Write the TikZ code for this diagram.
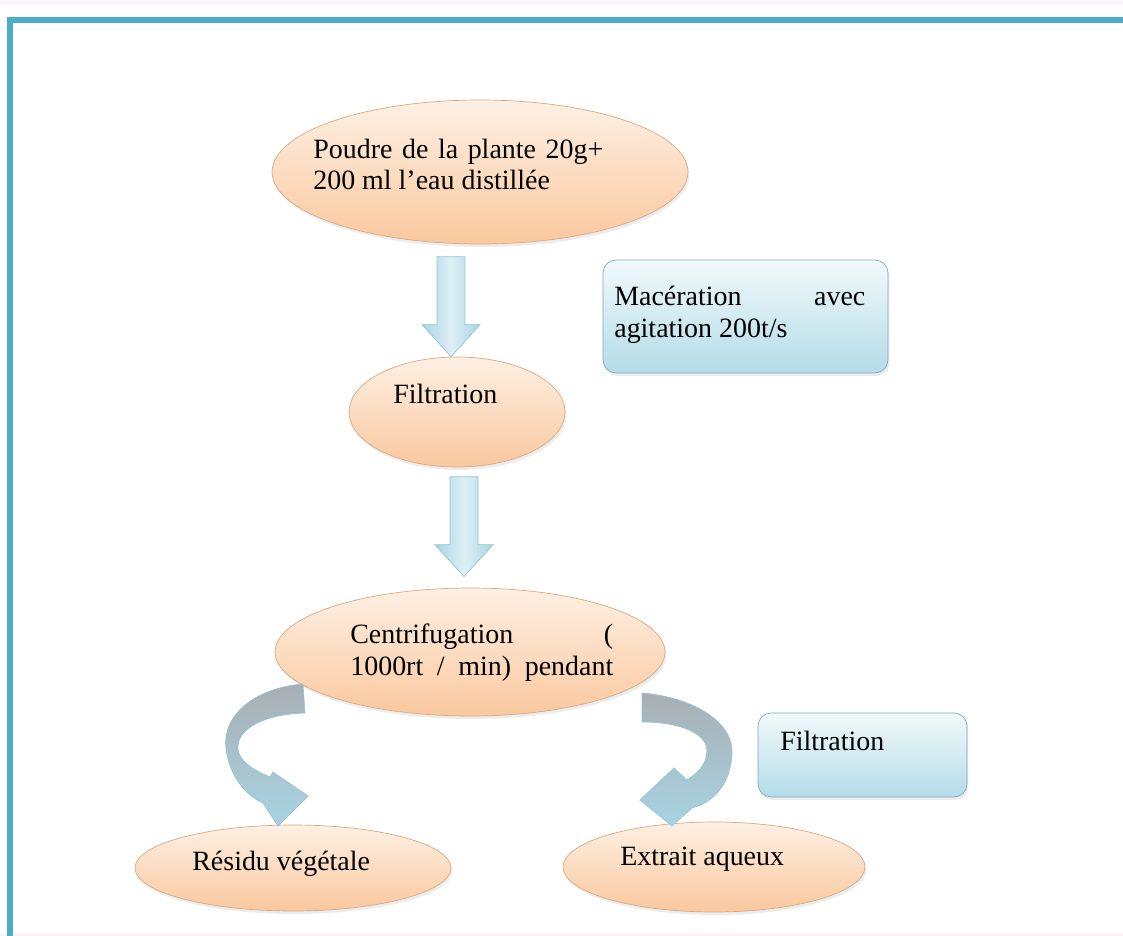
\documentclass[tikz,border=0pt]{standalone}
\usepackage{fontspec}
\setmainfont{Liberation Serif}
\usetikzlibrary{shapes.geometric, shadows, calc}

\definecolor{cadre}{RGB}{75,172,198}
\definecolor{peachtop}{RGB}{254,240,228}
\definecolor{peachbot}{RGB}{250,200,158}
\definecolor{peachline}{RGB}{215,170,130}
\definecolor{boxtop}{RGB}{242,249,251}
\definecolor{boxbot}{RGB}{180,220,232}
\definecolor{boxline}{RGB}{125,168,186}
\definecolor{arrblue}{RGB}{168,212,227}
\definecolor{arrlight}{RGB}{222,240,246}
\definecolor{arrgray}{RGB}{168,174,180}
\definecolor{arrline}{RGB}{150,196,212}

\tikzset{
  bulle/.style={ellipse, draw=peachline, top color=peachtop, bottom color=peachbot, inner sep=0pt,
    drop shadow={shadow xshift=0.03cm, shadow yshift=-0.06cm, opacity=0.15}},
  boite/.style={draw=boxline, rounded corners=0.26cm, top color=boxtop, bottom color=boxbot, inner sep=0pt,
    drop shadow={shadow xshift=0.03cm, shadow yshift=-0.06cm, opacity=0.15}},
  txt/.style={inner sep=0pt, anchor=base west, align=left, font=\fontsize{15.9pt}{18.2pt}\selectfont},
  courbe/.style={draw=arrline, top color=arrgray, bottom color=arrblue},
  flechebas/.pic={
    \path[draw=arrline, left color=arrblue, right color=arrblue, middle color=arrlight]
      (0,0) -- (-29,-32) -- (-14,-32) -- (-14,-100) -- (14,-100) -- (14,-32) -- (29,-32) -- cycle;
  },
}

\begin{document}
\begin{tikzpicture}[x=0.02cm, y=-0.02cm]
  \useasboundingbox (0,0) rectangle (1123,936);
  % cadre
  \draw[magenta!6, line width=0.06cm] (0,3) -- (1123,3);
  \draw[magenta!6, line width=0.06cm] (0,934) -- (1123,934);
  \draw[cadre, line width=0.11cm] (10,936) -- (10,20) -- (1123,20);

  % etapes
  \node[bulle, minimum width=8.32cm, minimum height=2.88cm] (poudre) at (480,172) {};
  \node[bulle, minimum width=4.32cm, minimum height=2.2cm] (filt1) at (457,412) {};
  \node[bulle, minimum width=7.8cm, minimum height=2.56cm] (centrif) at (470,652) {};
  \node[bulle, minimum width=6.32cm, minimum height=1.72cm] (residu) at (293,868) {};
  \node[bulle, minimum width=6.04cm, minimum height=1.8cm] (extrait) at (714,867) {};

  \node[boite, minimum width=5.7cm, minimum height=2.26cm] (macer) at (745.5,316.5) {};
  \node[boite, minimum width=4.18cm, minimum height=1.68cm] (filt2) at (862.5,755) {};

  % fleches
  \pic at ($(filt1.north)+(-6,0)$) {flechebas};
  \pic at ($(centrif.north)+(-6,-11)$) {flechebas};

  \path[courbe] (303,684) .. controls (255,688) and (222,715) .. (226,748)
    .. controls (229,775) and (245,795) .. (263,803) -- (278,826) -- (308,796) -- (273,772) -- (270,777)
    .. controls (248,768) and (236,757) .. (238,745) .. controls (240,728) and (265,714) .. (305,713) -- cycle;
  \path[courbe] (642,693) .. controls (690,697) and (733,720) .. (732,753)
    .. controls (731,785) and (712,803) .. (692,808) -- (672,826) -- (640,800) -- (674,768) -- (687,780)
    .. controls (700,772) and (707,762) .. (707,750) .. controls (706,733) and (680,722) .. (642,722) -- cycle;

  % textes
  \node[txt] (poudre-t) at (313,190) {\makebox[5.8cm][s]{Poudre de la plante 20g+}\\200 ml l’eau distillée};
  \node[txt] (filt1-t) at (393,403) {Filtration};
  \node[txt] (centrif-t) at (350,675) {\makebox[5.26cm][s]{Centrifugation (}\\\makebox[5.26cm][s]{1000rt / min) pendant}};
  \node[txt] (residu-t) at (192,870) {Résidu végétale};
  \node[txt] (extrait-t) at (620,865) {Extrait aqueux};
  \node[txt] (macer-t) at (614,337) {\makebox[5.02cm][s]{Macération avec}\\agitation 200t/s};
  \node[txt] (filt2-t) at (780,750) {Filtration};
\end{tikzpicture}
\end{document}
